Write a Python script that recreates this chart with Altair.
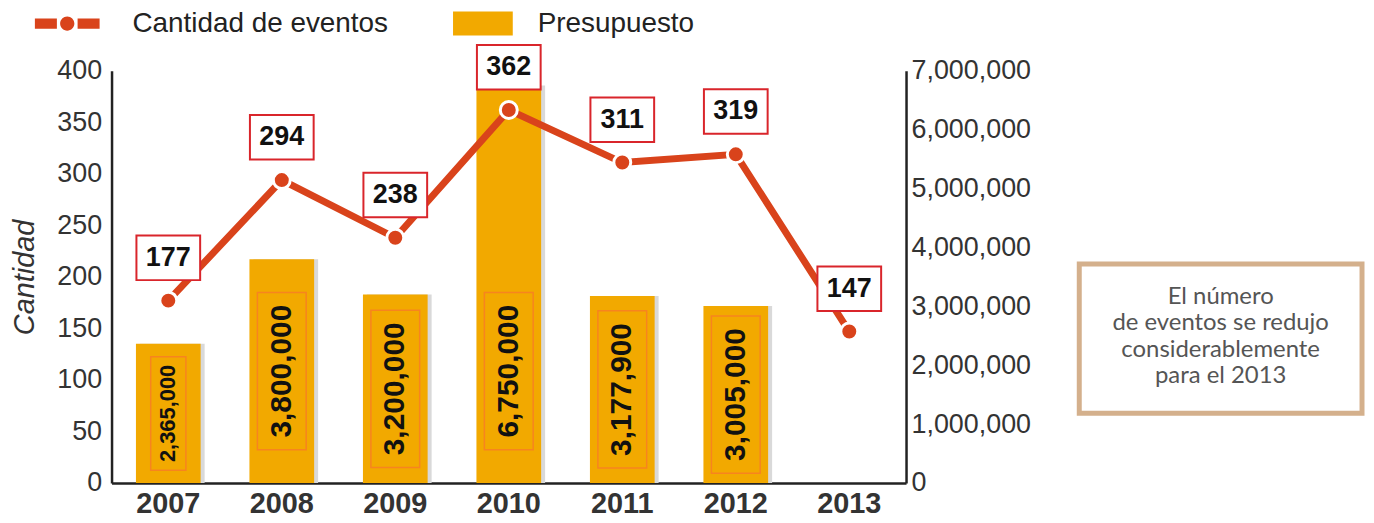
import altair as alt

# ---- data ----
years = ["2007", "2008", "2009", "2010", "2011", "2012", "2013"]
eventos = [177, 294, 238, 362, 311, 319, 147]
presupuesto = [2365000, 3800000, 3200000, 6750000, 3177900, 3005000, None]
serie_eventos = "Cantidad de eventos"
serie_presupuesto = "Presupuesto"
nota = ["El número", "de eventos se redujo", "considerablemente", "para el 2013"]
y_left_ticks = [0, 50, 100, 150, 200, 250, 300, 350, 400]
y_right_ticks = [0, 1000000, 2000000, 3000000, 4000000, 5000000, 6000000, 7000000]

rows = [
    {"anio": a, "eventos": e, "presupuesto": p,
     "serie_e": serie_eventos, "serie_p": serie_presupuesto}
    for a, e, p in zip(years, eventos, presupuesto)
]
data = alt.Data(values=rows)

FONT = "Liberation Sans"
LINE = "#D9431B"
GOLD = "#F2A900"
RED_BOX = "#D9252B"
ORANGE_BOX = "#F7841F"

x = alt.X(
    "anio:N", sort=None,
    scale=alt.Scale(paddingInner=0.43, paddingOuter=0.215),
    axis=alt.Axis(title=None, labelFont=FONT, labelFontSize=29, labelFontWeight="bold",
                  labelColor="#333", domainColor="#222", domainWidth=2.5, ticks=False,
                  labelPadding=7, labelAngle=0, grid=False),
)

# ---- budget (bars, right axis) ----
p_scale = alt.Scale(domain=[0, 7000000])
p_axis = alt.Axis(orient="right", title=None, values=y_right_ticks, format=",d",
                  labelFont=FONT, labelFontSize=27, labelColor="#333",
                  domainColor="#222", domainWidth=2.5, ticks=False, labelPadding=5, grid=False)

base_p = alt.Chart(data).transform_filter("datum.presupuesto != null")

shadow = base_p.mark_bar(color="#d9d9d9", xOffset=4, y2Offset=-3).encode(
    x=x, y=alt.Y("presupuesto:Q", scale=p_scale, axis=p_axis))

bars = base_p.mark_bar(y2Offset=-3).encode(
    x=x,
    y=alt.Y("presupuesto:Q", scale=p_scale, axis=p_axis),
    fill=alt.Fill("serie_p:N", scale=alt.Scale(domain=[serie_presupuesto], range=[GOLD]),
                  legend=alt.Legend(orient="none", legendX=343, legendY=-77.5, title=None,
                                    symbolType="M-1,-0.4L1,-0.4L1,0.4L-1,0.4Z", symbolSize=3600,
                                    symbolStrokeWidth=0, labelFont=FONT, labelFontSize=28,
                                    labelColor="#222", labelOffset=25, labelLimit=500,
                                    padding=0)),
)

lab_p = base_p.transform_calculate(
    ly="min(datum.presupuesto / 2, 1900000)",
    bs="datum.presupuesto < 2500000 ? 12996 : 24964",
    fs="datum.presupuesto < 2500000 ? 22 : 30",
)

bar_boxes = lab_p.mark_point(shape="M-0.31,-1L0.31,-1L0.31,1L-0.31,1Z", filled=False,
                             stroke=ORANGE_BOX, strokeWidth=1.5, opacity=1).encode(
    x=x, y=alt.Y("ly:Q", scale=p_scale, axis=p_axis), size=alt.Size("bs:Q", scale=None))

bar_text = lab_p.mark_text(angle=270, font=FONT, fontWeight="bold", color="#111",
                           align="center", baseline="middle").encode(
    x=x, y=alt.Y("ly:Q", scale=p_scale, axis=p_axis),
    text=alt.Text("presupuesto:Q", format=",d"),
    size=alt.Size("fs:Q", scale=None))

bar_group = alt.layer(shadow, bars, bar_boxes, bar_text)

# ---- events (line, left axis) ----
e_scale = alt.Scale(domain=[0, 400])
e_axis = alt.Axis(orient="left", title="Cantidad", titleFont=FONT, titleFontSize=29,
                  titleFontStyle="italic", titleFontWeight="normal", titleColor="#333",
                  titlePadding=17, values=y_left_ticks, labelFont=FONT, labelFontSize=27,
                  labelColor="#333", domainColor="#222", domainWidth=2.5, ticks=False,
                  labelPadding=10, grid=False)
y_e = alt.Y("eventos:Q", scale=e_scale, axis=e_axis)

base_e = alt.Chart(data)
line = base_e.mark_line(color=LINE, strokeWidth=7).encode(x=x, y=y_e)

pts = base_e.mark_point(filled=True, size=290, stroke="white", strokeWidth=3, opacity=1).encode(
    x=x, y=y_e,
    color=alt.Color("serie_e:N", scale=alt.Scale(domain=[serie_eventos], range=[LINE]),
                    legend=alt.Legend(orient="none", legendX=-77, legendY=-80, title=None,
                                      symbolType=("M-1,-0.16L-0.32,-0.16L-0.32,0.16L-1,0.16Z "
                                                  "M0.32,-0.16L1,-0.16L1,0.16L0.32,0.16Z "
                                                  "M0.22,0A0.22,0.22 0 1 1 -0.22,0A0.22,0.22 0 1 1 0.22,0Z"),
                                      symbolSize=4225, symbolStrokeWidth=0,
                                      labelFont=FONT, labelFontSize=28, labelColor="#222",
                                      labelOffset=33, labelLimit=500, padding=0)),
)

lbl_box = base_e.mark_point(shape="M-1,-0.7L1,-0.7L1,0.7L-1,0.7Z", size=4096, filled=True,
                            fill="white", stroke=RED_BOX, strokeWidth=2, opacity=1,
                            yOffset=-43).encode(x=x, y=y_e)
lbl_txt = base_e.mark_text(font=FONT, fontSize=27, fontWeight="bold", color="#111",
                           yOffset=-43, baseline="middle", align="center").encode(
    x=x, y=y_e, text=alt.Text("eventos:Q"))

line_group = alt.layer(line, pts, lbl_box, lbl_txt)

# ---- annotation box ----
note = alt.Chart(alt.Data(values=[{"t": "\n".join(nota)}]))
note_box = note.mark_rect(fill="white", stroke="#D4B08C", strokeWidth=5).encode(
    x=alt.value(972), x2=alt.value(1256), y=alt.value(194), y2=alt.value(344))
note_txt = note.mark_text(font="Lato", fontSize=24, color="#555", lineBreak="\n",
                          lineHeight=26.5, align="center", baseline="middle").encode(
    x=alt.value(1114), y=alt.value(227), text="t:N")

chart = alt.layer(bar_group, line_group, note_box, note_txt).resolve_scale(
    y="independent"
).properties(
    width=798, height=414,
    autosize=alt.AutoSizeParams(type="none"),
    padding={"left": 104, "top": 62, "right": 462, "bottom": 34},
).configure_view(stroke=None)

chart.save("out.html", embed_options={"renderer": "svg", "actions": False})
